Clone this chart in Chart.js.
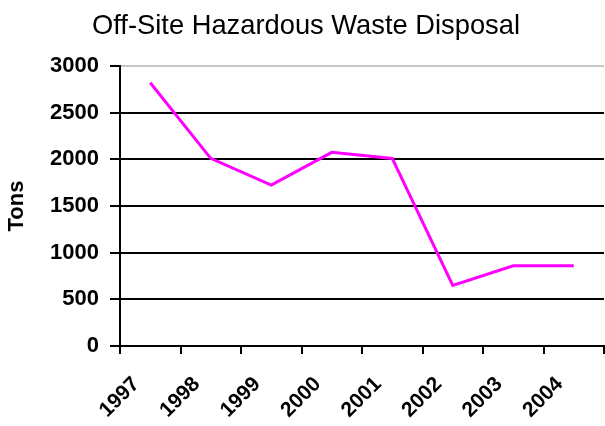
<!DOCTYPE html>
<html>
<head>
<meta charset="utf-8">
<script src="https://cdn.jsdelivr.net/npm/chart.js@4.4.1/dist/chart.umd.min.js"></script>
<style>
  html, body { margin: 0; padding: 0; background: #ffffff; }
  #wrap { width: 605px; height: 426px; }
</style>
</head>
<body>
<div id="wrap"><canvas id="c" width="605" height="426"></canvas></div>
<script>
const chartTitle = "Off-Site Hazardous Waste Disposal";
const yAxisTitle = "Tons";
const years = ["1997", "1998", "1999", "2000", "2001", "2002", "2003", "2004"];
const tons = [2820, 2010, 1725, 2075, 2010, 650, 860, 860];
const yTicks = [0, 500, 1000, 1500, 2000, 2500, 3000];

const yTickFont = { family: "'Liberation Sans', Arial, sans-serif", size: 22, weight: 'bold' };
const xTickFont = { family: "'Liberation Sans', Arial, sans-serif", size: 21, weight: 'bold' };

// Condensed title (no narrow font installed): draw real text, horizontally compressed
const narrowTitle = {
  id: 'narrowTitle',
  afterDraw(chart) {
    const ctx = chart.ctx;
    ctx.save();
    ctx.font = "normal 28px 'Liberation Sans', Arial, sans-serif";
    ctx.fillStyle = '#000000';
    ctx.textBaseline = 'alphabetic';
    ctx.textAlign = 'center';
    const w = ctx.measureText(chartTitle).width;
    const sx = 428 / w;
    ctx.translate(306, 34);
    ctx.scale(sx, 1);
    ctx.fillText(chartTitle, 0, 0);
    ctx.restore();
  }
};

new Chart(document.getElementById('c'), {
  type: 'line',
  data: {
    labels: years,
    datasets: [{
      data: tons,
      borderColor: '#ff00ff',
      borderWidth: 3,
      pointRadius: 0,
      tension: 0,
      fill: false
    }]
  },
  plugins: [narrowTitle],
  options: {
    responsive: false,
    animation: false,
    layout: { padding: { left: 0, right: 1, top: 66, bottom: 0 } },
    plugins: {
      legend: { display: false },
      tooltip: { enabled: false },
      title: { display: false }
    },
    scales: {
      x: {
        type: 'category',
        offset: true,
        afterFit: s => { s.height = 80; s.paddingLeft = 0; s.paddingRight = 0; },
        border: { display: true, color: '#000000', width: 2 },
        grid: { offset: true, drawOnChartArea: false, color: '#000000', tickColor: '#000000', tickLength: 8, lineWidth: 2 },
        ticks: {
          color: '#000000',
          font: xTickFont,
          minRotation: 45,
          maxRotation: 45,
          autoSkip: false,
          padding: 18,
          labelOffset: -14
        }
      },
      y: {
        min: 0,
        max: 3000,
        afterFit: s => { s.width = 120; s.paddingTop = 0; s.paddingBottom = 0; },
        afterBuildTicks: s => { s.ticks = yTicks.map(v => ({ value: v })); },
        border: { display: true, color: '#000000', width: 2 },
        grid: {
          color: ctx => (ctx.tick && ctx.tick.value === 3000) ? '#c8c8c8' : '#000000',
          tickColor: '#000000',
          lineWidth: 2,
          tickLength: 10
        },
        ticks: { color: '#000000', font: yTickFont, padding: 11, callback: v => String(v) },
        title: {
          display: true,
          text: yAxisTitle,
          color: '#000000',
          font: { family: "'Liberation Sans', Arial, sans-serif", size: 22, weight: 'bold' },
          padding: { top: 4, bottom: 0 }
        }
      }
    }
  }
});
</script>
</body>
</html>
